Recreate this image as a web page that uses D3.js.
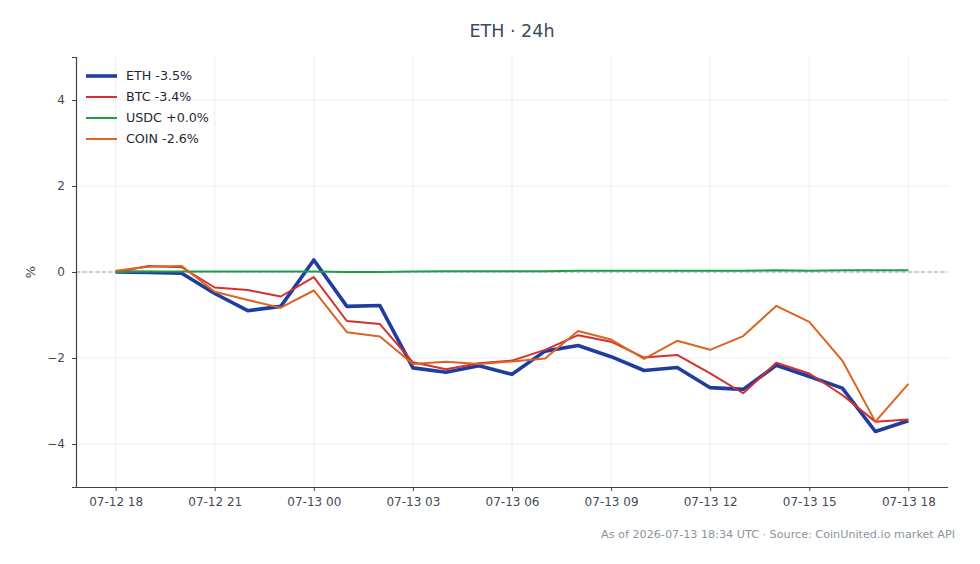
<!DOCTYPE html>
<html>
<head>
<meta charset="utf-8">
<script src="https://cdn.jsdelivr.net/npm/d3@7"></script>
<style>
  body { margin: 0; background: #fff; }
  svg { font-family: "DejaVu Sans", sans-serif; }
</style>
</head>
<body>
<svg width="980" height="564"></svg>
<script>
// hourly points, 07-12 18:00 -> 07-13 18:00 UTC
const startHour = new Date(Date.UTC(2026, 6, 12, 18));
const hours = d3.range(25).map(i => new Date(startHour.getTime() + i * 3600e3));

const eth = [0, -0.01, -0.03, -0.5, -0.9, -0.8, 0.28, -0.8, -0.78, -2.23, -2.33, -2.18, -2.38, -1.84, -1.71, -1.97, -2.29, -2.22, -2.69, -2.73, -2.17, -2.43, -2.7, -3.71, -3.46];
const btc = [0, 0.14, 0.11, -0.36, -0.42, -0.57, -0.12, -1.14, -1.21, -2.1, -2.26, -2.12, -2.06, -1.81, -1.47, -1.62, -1.99, -1.93, -2.36, -2.82, -2.11, -2.36, -2.86, -3.48, -3.43];
const usdc = [0, 0.01, 0.01, 0.01, 0.01, 0.01, 0.01, 0, 0, 0.01, 0.02, 0.02, 0.02, 0.02, 0.03, 0.03, 0.03, 0.03, 0.03, 0.03, 0.04, 0.03, 0.04, 0.04, 0.04];
const coin = [0.03, 0.12, 0.14, -0.46, -0.65, -0.83, -0.43, -1.4, -1.5, -2.14, -2.09, -2.14, -2.08, -2.01, -1.37, -1.57, -2.02, -1.6, -1.81, -1.49, -0.79, -1.16, -2.06, -3.48, -2.6];

const seriesNames = ["ETH -3.5%", "BTC -3.4%", "USDC +0.0%", "COIN -2.6%"];
const yTicks = [-4, -2, 0, 2, 4];

const series = [
  { name: seriesNames[0], values: eth, color: "#1f3d9e", width: 3.6 },
  { name: seriesNames[1], values: btc, color: "#d3302f", width: 2 },
  { name: seriesNames[2], values: usdc, color: "#1f9d4a", width: 2 },
  { name: seriesNames[3], values: coin, color: "#dc6420", width: 2 }
];

const svg = d3.select("svg");
const mLeft = 76, mRight = 948, mTop = 57, mBottom = 487;
const pad = 1.2 * 3600e3;

const x = d3.scaleTime()
  .domain([new Date(hours[0].getTime() - pad), new Date(hours[24].getTime() + pad)])
  .range([mLeft, mRight]);
const y = d3.scaleLinear().domain([-5, 5]).range([mBottom, mTop]);

const xTicks = hours.filter((d, i) => i % 3 === 0);
const fmt = d3.utcFormat("%m-%d %H");

// grid
const grid = svg.append("g").attr("stroke", "#e8eaee").attr("stroke-width", 0.8);
grid.selectAll(".gx").data(xTicks).join("line")
  .attr("x1", d => x(d)).attr("x2", d => x(d)).attr("y1", mTop).attr("y2", mBottom);
grid.selectAll(".gy").data(yTicks).join("line")
  .attr("x1", mLeft).attr("x2", mRight).attr("y1", d => y(d)).attr("y2", d => y(d));

// zero line
svg.append("line")
  .attr("x1", mLeft).attr("x2", mRight).attr("y1", y(0)).attr("y2", y(0))
  .attr("stroke", "#98a2b0").attr("stroke-width", 1).attr("stroke-dasharray", "4,2.5");

// axes
const xAxis = svg.append("g").attr("transform", `translate(0,${mBottom})`)
  .call(d3.axisBottom(x).tickValues(xTicks).tickFormat(fmt).tickSize(4).tickPadding(6));
xAxis.select(".domain").attr("d", `M${mLeft},0.5H${mRight}`);
const yAxis = svg.append("g").attr("transform", `translate(${mLeft},0)`)
  .call(d3.axisLeft(y).tickValues(yTicks).tickSize(4).tickPadding(7).tickFormat(d => d < 0 ? "−" + Math.abs(d) : d));
[xAxis, yAxis].forEach(a => {
  a.select(".domain").attr("stroke", "#3a4350").attr("stroke-width", 1.2);
  a.selectAll(".tick line").attr("stroke", "#3a4350");
  a.selectAll("text").attr("fill", "#3f4a57").style("font-size", "12px").style("font-family", "DejaVu Sans");
});

// lines
const line = d3.line().x((d, i) => x(hours[i])).y(d => y(d));
svg.append("g").selectAll("path").data(series).join("path")
  .attr("d", d => line(d.values))
  .attr("fill", "none")
  .attr("stroke", d => d.color)
  .attr("stroke-width", d => d.width)
  .attr("stroke-linejoin", "round");

// legend
const lg = svg.append("g").selectAll("g").data(series).join("g")
  .attr("transform", (d, i) => `translate(86,${76 + i * 21})`);
lg.append("line").attr("x1", 0).attr("x2", 31)
  .attr("stroke", d => d.color).attr("stroke-width", d => d.width);
lg.append("text").attr("x", 40).attr("dy", "0.35em")
  .attr("fill", "#1f2933").style("font-size", "12.7px").text(d => d.name);

// title, y label, source
svg.append("text").attr("x", 512).attr("y", 37).attr("text-anchor", "middle")
  .attr("fill", "#3d4a5a").style("font-size", "17.5px").text("ETH · 24h");
svg.append("text").attr("transform", `translate(35,${y(0)}) rotate(-90)`)
  .attr("text-anchor", "middle").attr("fill", "#3f4a57").style("font-size", "13px").text("%");
svg.append("text").attr("x", 955).attr("y", 538).attr("text-anchor", "end")
  .attr("fill", "#8a94a0").style("font-size", "11.2px")
  .text("As of 2026-07-13 18:34 UTC · Source: CoinUnited.io market API");
</script>
</body>
</html>
